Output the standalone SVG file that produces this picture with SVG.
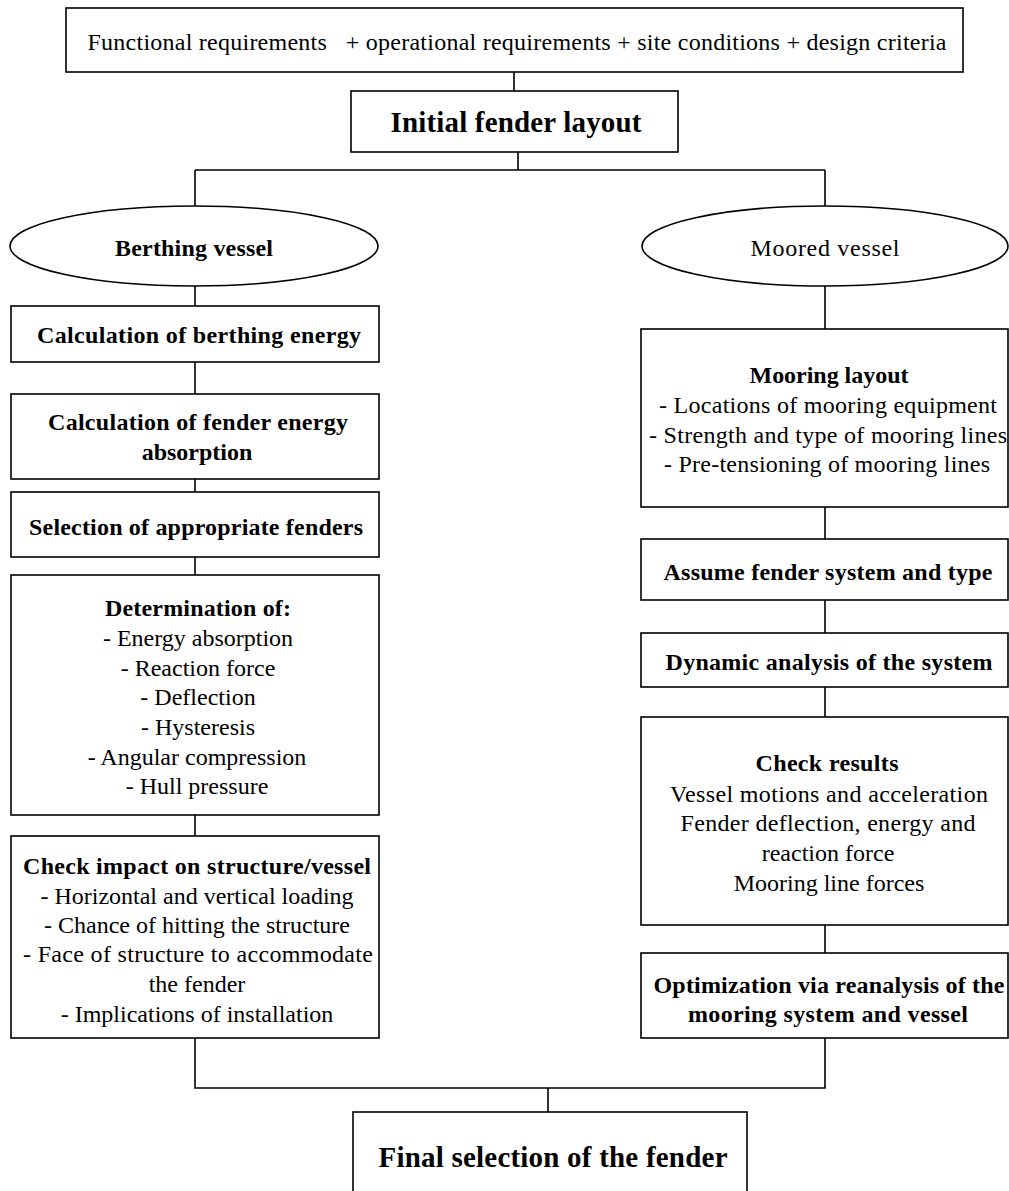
<svg xmlns="http://www.w3.org/2000/svg" width="1009" height="1191" viewBox="0 0 1009 1191">
<style>
.box{fill:#fff;stroke:#000;stroke-width:1.6}
.ln{fill:none;stroke:#000;stroke-width:1.6}
text{font-family:"Liberation Serif","Times New Roman",serif;font-size:24px;fill:#000;text-anchor:middle}
.b{font-weight:bold}
.big{font-size:29px;font-weight:bold}
</style>
<rect width="1009" height="1191" fill="#fff"/>
<g id="connectors">
<path class="ln" d="M514,72 V91"/>
<path class="ln" d="M518,152 V170 M195,170 H825 M195,170 V207 M825,170 V206"/>
<path class="ln" d="M195,286 V306 M195,362 V394 M195,479 V492 M195,557 V575 M195,815 V836"/>
<path class="ln" d="M825,286 V329 M825,507 V539 M825,600 V633 M825,687 V717 M825,925 V953"/>
<path class="ln" d="M195,1038 V1088 H825 V1038 M548,1088 V1112"/>
</g>
<g id="n-top">
<rect class="box" x="66" y="8" width="897" height="64"/>
<text x="517" y="50" textLength="859" lengthAdjust="spacing" xml:space="preserve">Functional requirements   + operational requirements + site conditions + design criteria</text>
</g>
<g id="n-initial">
<rect class="box" x="351" y="91" width="327" height="61"/>
<text class="big" x="516" y="132" textLength="251" lengthAdjust="spacing">Initial fender layout</text>
</g>
<g id="n-berthing">
<ellipse class="box" cx="194" cy="246" rx="184" ry="40"/>
<text class="b" x="194" y="256" textLength="158" lengthAdjust="spacing">Berthing vessel</text>
</g>
<g id="n-moored">
<ellipse class="box" cx="825" cy="246" rx="183" ry="40"/>
<text x="825" y="256" textLength="149" lengthAdjust="spacing">Moored vessel</text>
</g>
<g id="n-calc-berthing">
<rect class="box" x="11" y="306" width="368" height="56"/>
<text class="b" x="199" y="343" textLength="324" lengthAdjust="spacing">Calculation of berthing energy</text>
</g>
<g id="n-calc-fender">
<rect class="box" x="11" y="394" width="368" height="85"/>
<text class="b" x="198" y="430" textLength="300" lengthAdjust="spacing">Calculation of fender energy</text>
<text class="b" x="197" y="460">absorption</text>
</g>
<g id="n-selection">
<rect class="box" x="11" y="492" width="368" height="65"/>
<text class="b" x="196" y="535" textLength="334" lengthAdjust="spacing">Selection of appropriate fenders</text>
</g>
<g id="n-determination">
<rect class="box" x="11" y="575" width="368" height="240"/>
<text class="b" x="198" y="616" textLength="186" lengthAdjust="spacing">Determination of:</text>
<text x="198" y="646">- Energy absorption</text>
<text x="198" y="676">- Reaction force</text>
<text x="198" y="705">- Deflection</text>
<text x="198" y="735">- Hysteresis</text>
<text x="197" y="765">- Angular compression</text>
<text x="197" y="794">- Hull pressure</text>
</g>
<g id="n-check-impact">
<rect class="box" x="11" y="836" width="368" height="202"/>
<text class="b" x="197" y="874" textLength="348" lengthAdjust="spacing">Check impact on structure/vessel</text>
<text x="197" y="904">- Horizontal and vertical loading</text>
<text x="197" y="933">- Chance of hitting the structure</text>
<text x="198" y="962" textLength="350" lengthAdjust="spacing">- Face of structure to accommodate</text>
<text x="197" y="992">the fender</text>
<text x="197" y="1022">- Implications of installation</text>
</g>
<g id="n-mooring-layout">
<rect class="box" x="641" y="329" width="367" height="178"/>
<text class="b" x="829" y="383" textLength="159" lengthAdjust="spacing">Mooring layout</text>
<text x="828" y="413" textLength="338" lengthAdjust="spacing">- Locations of mooring equipment</text>
<text x="828" y="443" textLength="358" lengthAdjust="spacing">- Strength and type of mooring lines</text>
<text x="827" y="472" textLength="326" lengthAdjust="spacing">- Pre-tensioning of mooring lines</text>
</g>
<g id="n-assume">
<rect class="box" x="641" y="539" width="367" height="61"/>
<text class="b" x="828" y="580" textLength="329" lengthAdjust="spacing">Assume fender system and type</text>
</g>
<g id="n-dynamic">
<rect class="box" x="641" y="633" width="367" height="54"/>
<text class="b" x="829" y="670" textLength="327" lengthAdjust="spacing">Dynamic analysis of the system</text>
</g>
<g id="n-check-results">
<rect class="box" x="641" y="717" width="367" height="208"/>
<text class="b" x="827" y="771" textLength="143" lengthAdjust="spacing">Check results</text>
<text x="829" y="802" textLength="318" lengthAdjust="spacing">Vessel motions and acceleration</text>
<text x="828" y="831" textLength="295" lengthAdjust="spacing">Fender deflection, energy and</text>
<text x="828" y="861">reaction force</text>
<text x="829" y="891">Mooring line forces</text>
</g>
<g id="n-optimization">
<rect class="box" x="641" y="953" width="367" height="85"/>
<text class="b" x="829" y="993" textLength="351" lengthAdjust="spacing">Optimization via reanalysis of the</text>
<text class="b" x="828" y="1022" textLength="280" lengthAdjust="spacing">mooring system and vessel</text>
</g>
<g id="n-final">
<rect class="box" x="353" y="1112" width="394" height="90"/>
<text class="big" x="553" y="1167" textLength="349" lengthAdjust="spacing">Final selection of the fender</text>
</g>
</svg>
